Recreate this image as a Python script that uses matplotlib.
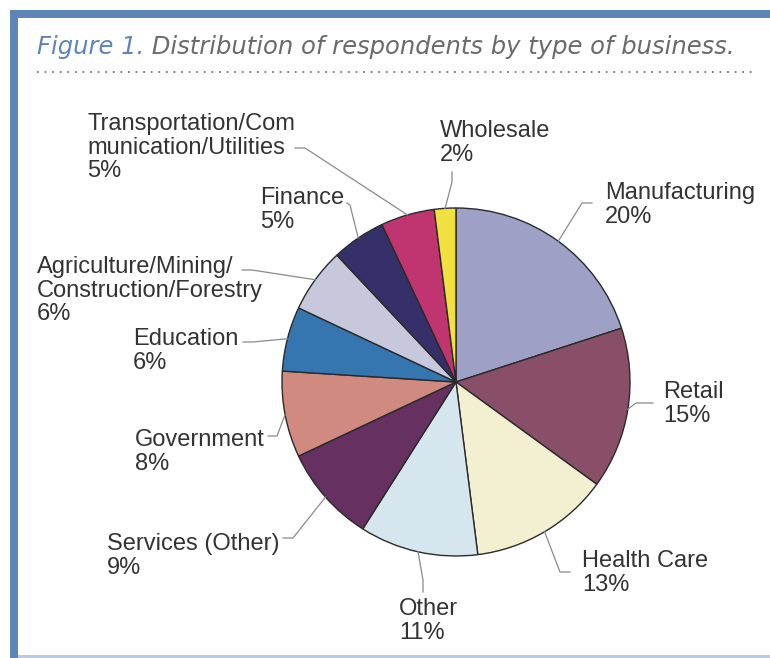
import numpy as np
import matplotlib
matplotlib.use("Agg")
import matplotlib.pyplot as plt
from matplotlib.patches import Rectangle

# data
categories = ["Manufacturing", "Retail", "Health Care", "Other", "Services (Other)",
              "Government", "Education", "Agriculture/Mining/\nConstruction/Forestry",
              "Finance", "Transportation/Com\nmunication/Utilities", "Wholesale"]
shares = [20, 15, 13, 11, 9, 8, 6, 6, 5, 5, 2]
colors = ["#9FA0C6", "#8A4F68", "#F3F0D2", "#D6E6EF", "#663060", "#D08A80",
          "#3575B0", "#C8C8DC", "#36306A", "#C0356F", "#F0E040"]

# label layout in pixel coords (x left, y top), leader kink and end points
label_pos = [(605, 181), (663, 380), (582, 549), (399, 597), (107, 532), (135, 428),
             (133, 327), (37, 255), (260, 186), (87, 112), (440, 119)]
leader_kink = [(582, 203), (636, 403), (560, 572), (423, 580), (293, 538), (277, 436),
               (253, 342), (252, 270), (350, 205), (305, 148), (452, 182)]
leader_end = [(592, 203), (653, 403), (570, 572), (423, 592), (283, 538), (268, 436),
              (243, 342), (242, 270), (347, 203), (295, 148), (452, 172)]

W, H = 770, 658
cx, cy, R = 456, 382, 174
FONT = "Liberation Sans"


def Y(y):
    return H - y


fig = plt.figure(figsize=(W / 100, H / 100), dpi=100)
ax = fig.add_axes([0, 0, 1, 1])

wedges, _ = ax.pie(shares, colors=colors, startangle=90, counterclock=False,
                   center=(cx, Y(cy)), radius=R,
                   wedgeprops=dict(edgecolor="#2a2a2a", linewidth=1.0))
ax.set_xlim(0, W)
ax.set_ylim(0, H)
ax.set_aspect("equal")
ax.axis("off")

for i, w in enumerate(wedges):
    mid = np.deg2rad((w.theta1 + w.theta2) / 2)
    ex, ey = cx + R * np.cos(mid), Y(cy) + R * np.sin(mid)
    kx, ky = leader_kink[i]
    lx, ly = leader_end[i]
    ax.plot([ex, kx, lx], [ey, Y(ky), Y(ly)], color="#8a8a8a", lw=0.9, zorder=1)
    tx, ty = label_pos[i]
    ax.text(tx, Y(ty) - 1, f"{categories[i]}\n{shares[i]}%", ha="left", va="top",
            fontsize=17, family=FONT, color="#333333", linespacing=1.1)

# frame
ax.add_patch(Rectangle((10, Y(18)), W - 10, 8, color="#5F84B8", lw=0, clip_on=False))
ax.add_patch(Rectangle((10, 0), 8, Y(10), color="#5F84B8", lw=0, clip_on=False))
ax.add_patch(Rectangle((18, 0), W - 18, 3, color="#BCCBE0", lw=0, clip_on=False))

# title
t1 = ax.text(37, Y(47), "Figure 1.", ha="left", va="center", fontsize=17.5,
             style="italic", family="DejaVu Sans", color="#5F84B8", fontweight="light")
fig.canvas.draw()
bb = t1.get_window_extent()
ax.text(bb.x1, Y(47), " Distribution of respondents by type of business.", ha="left",
        va="center", fontsize=17.5, style="italic", family="DejaVu Sans",
        color="#6a6a6a", fontweight="light")
ax.plot([37, 753], [Y(72), Y(72)], color="#777777", lw=1.3, linestyle=(0, (1, 3.2)))

fig.savefig("out.png", dpi=100)
